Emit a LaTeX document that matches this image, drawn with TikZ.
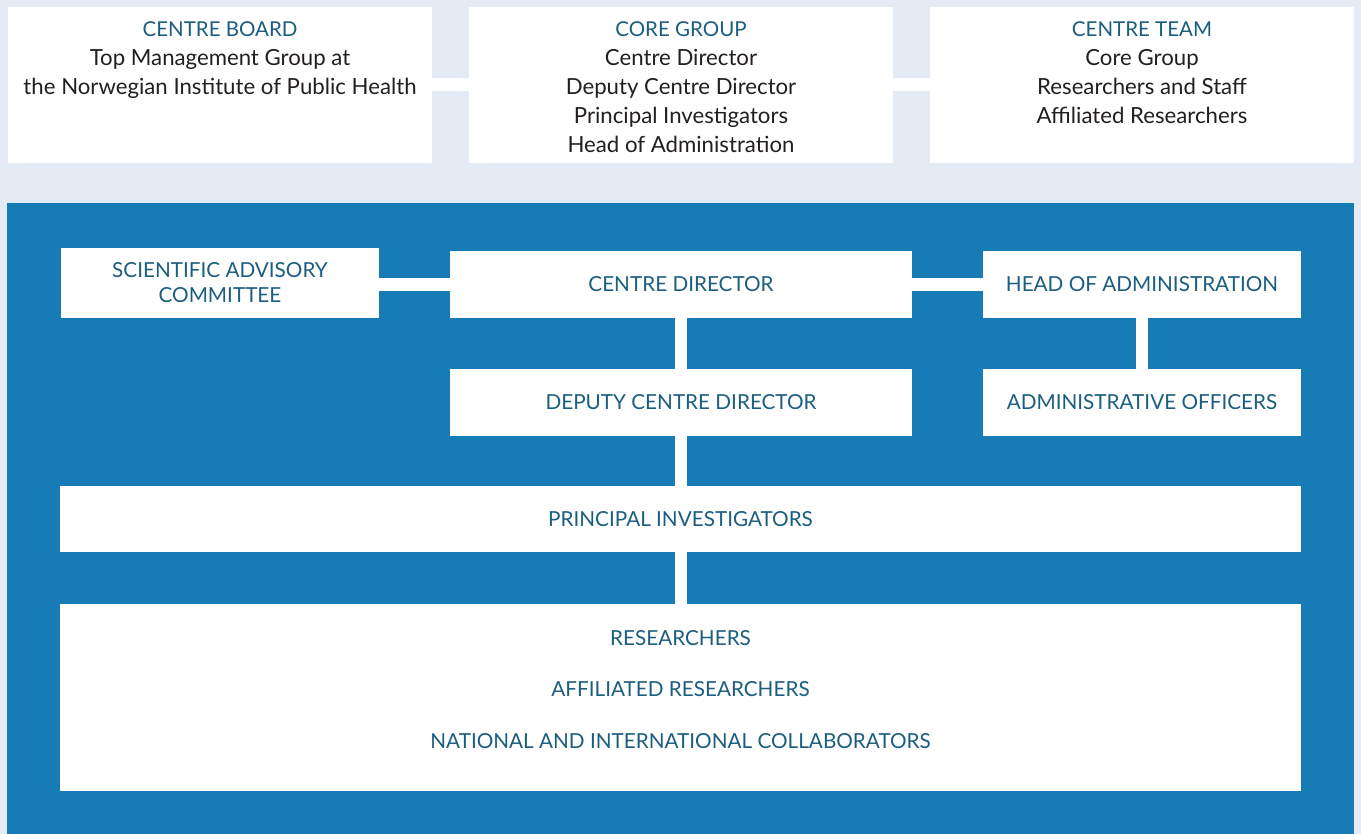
\documentclass[tikz,border=0pt]{standalone}
\usepackage{fontspec}
\setmainfont{Lato}
\definecolor{bg}{HTML}{E4EBF4}
\definecolor{panelblue}{HTML}{177CB6}
\definecolor{tblue}{HTML}{1B5E80}
\definecolor{tblack}{HTML}{231F20}
\newcommand{\ttlfont}{\fontsize{20.5}{29}\selectfont}
\begin{document}
\begin{tikzpicture}[x=1pt,y=-1pt,
  box/.style 2 args={fill=white,draw=none,inner sep=0pt,minimum width=#1,minimum height=#2},
  conn/.style={draw=white,line width=13pt},
  lab/.style={text=tblue,font=\fontsize{20.7}{25}\selectfont,align=center,inner sep=0pt},
  toptext/.style={text=tblack,font=\fontsize{22.2}{29}\selectfont,align=center,inner sep=0pt,anchor=north}]
\fill[bg] (0,0) rectangle (1361,834);
\useasboundingbox (0,0) rectangle (1361,834);
% top row
\node[box={424pt}{156pt}] (cb) at (220,85) {};
\node[box={424pt}{156pt}] (cg) at (681,85) {};
\node[box={424pt}{156pt}] (ct) at (1142,85) {};
\draw[conn] (cb) -- (cg);
\draw[conn] (cg) -- (ct);
\node[toptext] (cbt) at (220,21.7) {\textcolor{tblue}{\ttlfont CENTRE BOARD}\\Top Management Group at\\the Norwegian Institute of Public Health};
\node[toptext] (cgt) at (681,21.7) {\textcolor{tblue}{\ttlfont CORE GROUP}\\Centre Director\\Deputy Centre Director\\Principal Investigators\\Head of Administration};
\node[toptext] (ctt) at (1142,21.7) {\textcolor{tblue}{\ttlfont CENTRE TEAM}\\Core Group\\Researchers and Staff\\Affiliated Researchers};
% panel
\fill[panelblue] (7,203) rectangle (1354,834);
\node[box={318pt}{70pt}] (sac) at (220,283) {};
\node[box={462pt}{67pt}] (cd) at (681,284.5) {};
\node[box={318pt}{67pt}] (hoa) at (1142,284.5) {};
\node[box={462pt}{67pt}] (dep) at (681,402.5) {};
\node[box={318pt}{67pt}] (ao) at (1142,402.5) {};
\node[box={1241pt}{66pt}] (pi) at (680.5,519) {};
\node[box={1241pt}{187pt}] (res) at (680.5,697.5) {};
\draw[conn] (sac.east |- cd.west) -- (cd.west);
\draw[conn] (cd) -- (hoa);
\draw[conn,line width=12pt] (cd) -- (dep);
\draw[conn,line width=12pt] (hoa) -- (ao);
\draw[conn,line width=12pt] (dep.south) -- (dep.south |- pi.north);
\draw[conn,line width=12pt] (dep.south |- pi.south) -- (dep.south |- res.north);
\node[lab] (sacl) at (sac) {SCIENTIFIC ADVISORY\\COMMITTEE};
\node[lab] (cdl) at (cd) {CENTRE DIRECTOR};
\node[lab] (hoal) at (hoa) {HEAD OF ADMINISTRATION};
\node[lab] (depl) at (dep) {DEPUTY CENTRE DIRECTOR};
\node[lab] (aol) at (ao) {ADMINISTRATIVE OFFICERS};
\node[lab] (pil) at (pi) {PRINCIPAL INVESTIGATORS};
\node[lab,font=\fontsize{20.7}{51.5}\selectfont] (resl) at (680.5,689.5) {RESEARCHERS\\AFFILIATED RESEARCHERS\\NATIONAL AND INTERNATIONAL COLLABORATORS};
\end{tikzpicture}
\end{document}
